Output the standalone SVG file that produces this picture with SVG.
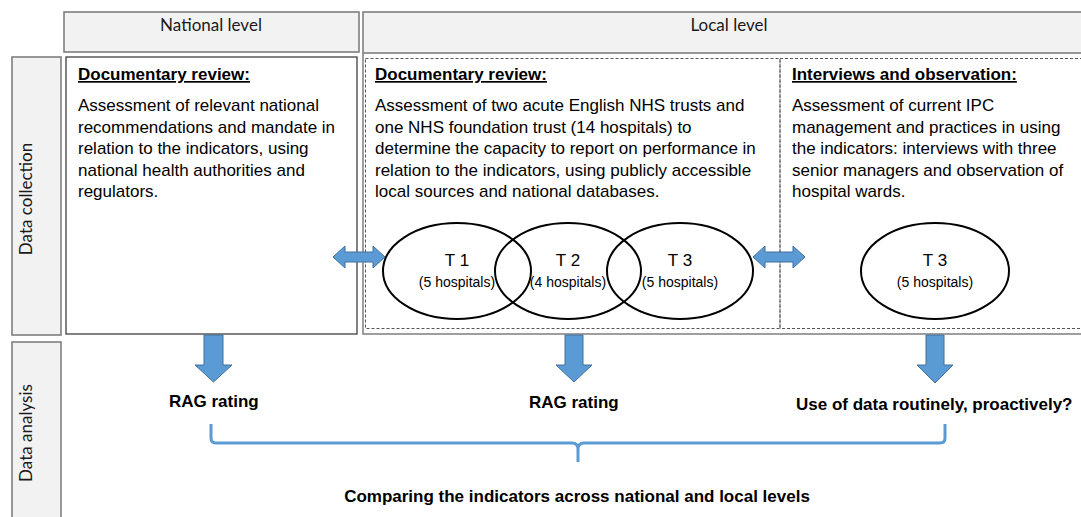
<svg xmlns="http://www.w3.org/2000/svg" width="1081" height="517" viewBox="0 0 1081 517">
  <style>
    .hdr { fill: #f2f2f2; stroke: #7f7f7f; stroke-width: 1.6; }
    .lbl { font-family: Lato, "Liberation Sans", sans-serif; font-size: 17px; fill: #1a1a1a; }
    .box { fill: #ffffff; stroke: #404040; stroke-width: 1.3; }
    .frame { fill: none; stroke: #7f7f7f; stroke-width: 1.5; }
    .dash { fill: none; stroke: #555555; stroke-width: 1; stroke-dasharray: 3 2; }
    .title { font-family: "Liberation Sans", Arial, sans-serif; font-size: 17px; font-weight: bold; text-decoration: underline; fill: #000; }
    .body { font-family: "Liberation Sans", Arial, sans-serif; font-size: 17px; fill: #000; }
    .ell { fill: none; stroke: #000; stroke-width: 2; }
    .tname { font-family: "Liberation Sans", Arial, sans-serif; font-size: 17px; fill: #000; text-anchor: middle; }
    .tsub { font-family: "Liberation Sans", Arial, sans-serif; font-size: 14px; fill: #000; text-anchor: middle; }
    .arrow { fill: #5b9bd5; stroke: #41719c; stroke-width: 1; }
    .out { font-family: "Liberation Sans", Arial, sans-serif; font-size: 17px; font-weight: bold; fill: #000; }
    .brace { fill: none; stroke: #5b9bd5; stroke-width: 3; stroke-linejoin: round; }
  </style>

  <!-- column headers -->
  <g id="header-national">
    <rect class="hdr" x="64" y="12" width="295" height="40"/>
    <text class="lbl" x="211" y="31" text-anchor="middle">National level</text>
  </g>
  <g id="header-local">
    <rect class="hdr" x="363" y="12" width="722" height="41"/>
    <text class="lbl" x="729" y="31" text-anchor="middle">Local level</text>
  </g>

  <!-- row headers -->
  <g id="row-collection">
    <rect class="hdr" x="12" y="57" width="49" height="278"/>
    <text class="lbl" transform="translate(32 199) rotate(-90)" text-anchor="middle">Data collection</text>
  </g>
  <g id="row-analysis">
    <rect class="hdr" x="12" y="342" width="49" height="180"/>
    <text class="lbl" transform="translate(32 433) rotate(-90)" text-anchor="middle">Data analysis</text>
  </g>

  <!-- national documentary review -->
  <g id="national-review">
    <rect class="box" x="66" y="57" width="291" height="277"/>
    <text class="title" x="78" y="80">Documentary review:</text>
    <text class="body">
      <tspan x="78" y="111">Assessment of relevant national</tspan>
      <tspan x="78" y="132.5">recommendations and mandate in</tspan>
      <tspan x="78" y="154">relation to the indicators, using</tspan>
      <tspan x="78" y="175.5">national health authorities and</tspan>
      <tspan x="78" y="197">regulators.</tspan>
    </text>
  </g>

  <!-- local area frame -->
  <g id="local-frame">
    <path class="frame" d="M363 53 V334 H1085"/>
  </g>

  <!-- local documentary review -->
  <g id="local-review">
    <rect class="dash" x="365.5" y="58.5" width="414.5" height="270"/>
    <text class="title" x="375" y="80">Documentary review:</text>
    <text class="body">
      <tspan x="375" y="111">Assessment of two acute English NHS trusts and</tspan>
      <tspan x="375" y="132.5">one NHS foundation trust (14 hospitals) to</tspan>
      <tspan x="375" y="154">determine the capacity to report on performance in</tspan>
      <tspan x="375" y="175.5">relation to the indicators, using publicly accessible</tspan>
      <tspan x="375" y="197">local sources and national databases.</tspan>
    </text>
  </g>

  <!-- interviews and observation -->
  <g id="local-interviews">
    <rect class="dash" x="780" y="58.5" width="305" height="270"/>
    <text class="title" x="792" y="80">Interviews and observation:</text>
    <text class="body">
      <tspan x="792" y="111">Assessment of current IPC</tspan>
      <tspan x="792" y="132.5">management and practices in using</tspan>
      <tspan x="792" y="154">the indicators: interviews with three</tspan>
      <tspan x="792" y="175.5">senior managers and observation of</tspan>
      <tspan x="792" y="197">hospital wards.</tspan>
    </text>
  </g>

  <!-- trusts -->
  <g id="trust-t1">
    <ellipse class="ell" cx="457" cy="271" rx="74" ry="48"/>
    <text class="tname" x="457" y="266">T 1</text>
    <text class="tsub" x="457" y="287">(5 hospitals)</text>
  </g>
  <g id="trust-t2">
    <ellipse class="ell" cx="568" cy="271" rx="73" ry="48"/>
    <text class="tname" x="568" y="266">T 2</text>
    <text class="tsub" x="568" y="287">(4 hospitals)</text>
  </g>
  <g id="trust-t3">
    <ellipse class="ell" cx="680" cy="271" rx="73" ry="48"/>
    <text class="tname" x="680" y="266">T 3</text>
    <text class="tsub" x="680" y="287">(5 hospitals)</text>
  </g>
  <g id="trust-t3-observed">
    <ellipse class="ell" cx="935" cy="271" rx="74" ry="48"/>
    <text class="tname" x="935" y="266">T 3</text>
    <text class="tsub" x="935" y="287">(5 hospitals)</text>
  </g>

  <!-- connectors -->
  <g id="connectors">
    <!-- two-way links between columns -->
    <path class="arrow" d="M333 257 L345 246 V252 H373 V246 L385 257 L373 268 V262 H345 V268 Z"/>
    <path class="arrow" d="M753 257 L765 246 V252 H793 V246 L805 257 L793 268 V262 H765 V268 Z"/>
    <!-- down arrows into analysis -->
    <path class="arrow" d="M204 335 H223 V365 H232 L213.5 382 L195 365 H204 Z"/>
    <path class="arrow" d="M565 335 H583 V365 H592 L574 382 L556 365 H565 Z"/>
    <path class="arrow" d="M926 335 H944 V365 H953 L935 383 L917 365 H926 Z"/>
    <!-- brace grouping the results -->
    <path class="brace" d="M211 424 V438 Q211 443 216 443 H572 Q578 443 578 449 V462 M578 449 Q578 443 584 443 H940 Q945 443 945 438 V424"/>
  </g>

  <!-- analysis results -->
  <g id="result-national">
    <text class="out" x="169" y="407">RAG rating</text>
  </g>
  <g id="result-local">
    <text class="out" x="529" y="408">RAG rating</text>
  </g>
  <g id="result-interviews">
    <text class="out" x="796" y="410">Use of data routinely, proactively?</text>
  </g>
  <g id="comparison">
    <text class="out" x="577" y="502" text-anchor="middle">Comparing the indicators across national and local levels</text>
  </g>
</svg>
